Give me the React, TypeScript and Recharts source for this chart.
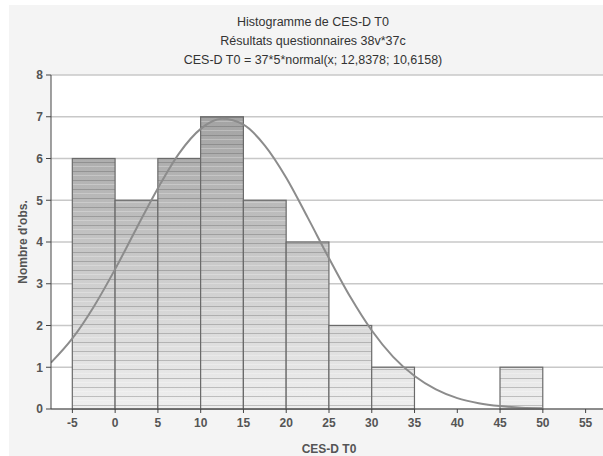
import React from "react";
import {
  ComposedChart,
  Bar,
  Line,
  XAxis,
  YAxis,
  CartesianGrid,
} from "recharts";

// histogram bins (lower bound) and counts
const binStarts = [-5, 0, 5, 10, 15, 20, 25, 30, 35, 40, 45, 50];
const counts = [6, 5, 6, 7, 5, 4, 2, 1, 0, 0, 1, 0];

// fitted normal curve
const curveX = [
  -7.5, -5, -2.5, 0, 2.5, 5, 7.5, 10, 12.5, 15, 17.5, 20, 22.5, 25, 27.5, 30,
  32.5, 35, 37.5, 40, 42.5, 45, 47.5, 50,
];
const curveY = [
  1.11, 1.69, 2.45, 3.35, 4.33, 5.29, 6.13, 6.71, 6.95, 6.81, 6.31, 5.54, 4.59,
  3.61, 2.68, 1.88, 1.25, 0.79, 0.47, 0.26, 0.14, 0.07, 0.03, 0.02,
];

const xTicks = [-5, 0, 5, 10, 15, 20, 25, 30, 35, 40, 45, 50, 55];
const yTicks = [0, 1, 2, 3, 4, 5, 6, 7, 8];
const titleLines = [
  "Histogramme de CES-D T0",
  "Résultats questionnaires 38v*37c",
  "CES-D T0 = 37*5*normal(x; 12,8378; 10,6158)",
];

const data = curveX.map((x, i) => {
  const b = binStarts.findIndex((s) => s + 2.5 === x);
  return { x, curve: curveY[i], count: b >= 0 && counts[b] > 0 ? counts[b] : null };
});

const W = 612;
const H = 456;
const margin = { top: 75, right: 5, bottom: 0, left: 15 };
const Y_AXIS_W = 36;
const X_AXIS_H = 47;
const X_MIN = -7.5;
const X_MAX = 57.5;
const plotW = W - margin.left - margin.right - Y_AXIS_W;
const BIN_PX = (5 * plotW) / (X_MAX - X_MIN);
const font = "'Liberation Sans', Arial, sans-serif";
const tickStyle = { fontSize: 12, fill: "#555", fontFamily: font, fontWeight: "bold" };

const HistBar = (props: any) => {
  const { x, y, width, height } = props;
  if (!height || height <= 0) return null;
  const cx = x + width / 2;
  const left = cx - BIN_PX / 2;
  return (
    <g>
      <rect x={left} y={y} width={BIN_PX} height={height} fill="url(#barGrad)" />
      <rect x={left} y={y} width={BIN_PX} height={height} fill="url(#stripes)" />
      <rect
        x={left}
        y={y}
        width={BIN_PX}
        height={height}
        fill="none"
        stroke="#6a6a6a"
        strokeWidth={1.2}
      />
    </g>
  );
};

export default function App() {
  return (
    <div
      style={{
        position: "absolute",
        left: 0,
        top: 0,
        width: 603,
        height: 456,
        overflow: "hidden",
        background: "#ffffff",
        fontFamily: font,
      }}
    >
      <div
        style={{
          position: "absolute",
          left: 9,
          top: 5,
          right: 0,
          bottom: 0,
          background: "#f4f4f4",
        }}
      />
      <div
        style={{
          position: "absolute",
          left: 0,
          top: 13,
          width: 626,
          textAlign: "center",
          fontSize: 12.5,
          lineHeight: "19px",
          color: "#333",
        }}
      >
        {titleLines.map((t) => (
          <div key={t}>{t}</div>
        ))}
      </div>
      <div style={{ position: "absolute", left: 0, top: 0 }}>
        <ComposedChart width={W} height={H} data={data} margin={margin}>
          <defs>
            <linearGradient
              id="barGrad"
              gradientUnits="userSpaceOnUse"
              x1="0"
              y1="75"
              x2="0"
              y2="409"
            >
              <stop offset="0%" stopColor="#989898" />
              <stop offset="100%" stopColor="#f0f0f0" />
            </linearGradient>
            <pattern id="stripes" patternUnits="userSpaceOnUse" width="8" height="9">
              <rect x="0" y="0" width="8" height="1" fill="rgba(70,70,70,0.28)" />
              <rect x="0" y="4" width="8" height="1" fill="rgba(255,255,255,0.25)" />
            </pattern>
          </defs>
          <CartesianGrid vertical={false} stroke="#c8c8c8" strokeWidth={1.5} fill="#ffffff" />
          <XAxis
            dataKey="x"
            type="number"
            domain={[X_MIN, X_MAX]}
            ticks={xTicks}
            allowDataOverflow
            height={X_AXIS_H}
            tickSize={4}
            tickMargin={5}
            stroke="#444"
            tick={tickStyle}
            label={{
              value: "CES-D T0",
              position: "insideBottom",
              offset: 3,
              fontSize: 12,
              fill: "#555",
              fontWeight: "bold",
              fontFamily: font,
            }}
          />
          <XAxis
            xAxisId="top"
            orientation="top"
            mirror
            height={0}
            type="number"
            domain={[X_MIN, X_MAX]}
            ticks={xTicks}
            allowDataOverflow
            tickSize={4}
            tickFormatter={() => ""}
            stroke="#999"
          />
          <YAxis
            type="number"
            domain={[0, 8]}
            ticks={yTicks}
            width={Y_AXIS_W}
            tickSize={5}
            tickMargin={3}
            stroke="#444"
            tick={tickStyle}
            label={{
              value: "Nombre d'obs.",
              angle: -90,
              position: "insideLeft",
              offset: 8,
              style: { textAnchor: "middle" },
              fontSize: 12,
              fill: "#555",
              fontWeight: "bold",
              fontFamily: font,
            }}
          />
          <Bar
            dataKey="count"
            barSize={BIN_PX - 1}
            shape={<HistBar />}
            isAnimationActive={false}
          />
          <Line
            dataKey="curve"
            type="monotone"
            stroke="#8c8c8c"
            strokeWidth={2}
            dot={false}
            connectNulls
            isAnimationActive={false}
          />
        </ComposedChart>
      </div>
    </div>
  );
}
